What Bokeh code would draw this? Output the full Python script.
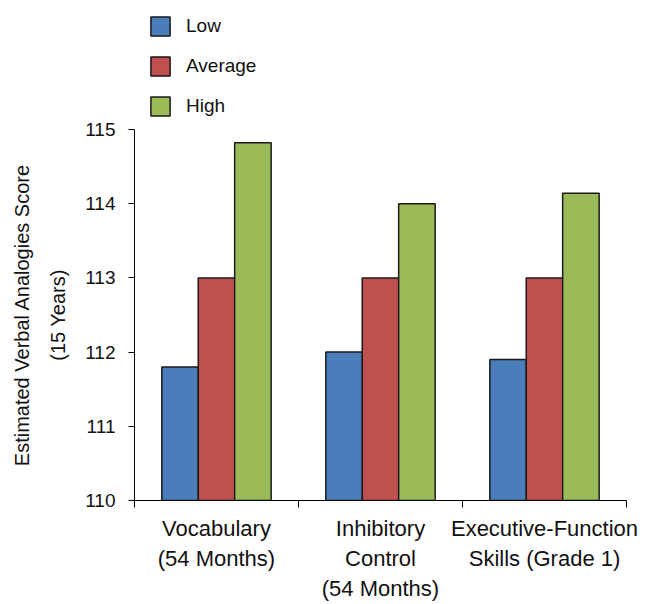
from bokeh.plotting import figure
from bokeh.layouts import column
from bokeh.models import Range1d, FixedTicker, Legend, LegendItem, ColumnDataSource
from bokeh.embed import file_html
from bokeh.resources import INLINE

categories = ["Vocabulary\n(54 Months)", "Inhibitory\nControl\n(54 Months)", "Executive-Function\nSkills (Grade 1)"]
series_names = ["Low", "Average", "High"]
low = [111.8, 112.0, 111.9]
average = [113.0, 113.0, 113.0]
high = [114.82, 114.0, 114.14]
y_ticks = [110, 111, 112, 113, 114, 115]

colors = ["#4a7ebb", "#c0504d", "#9bbb59"]
FONT = "Liberation Sans"
OUTLINE = "#1a1a1a"

# ---- main chart ----
p = figure(frame_width=492, frame_height=371, output_backend="svg", toolbar_location=None,
           x_range=Range1d(0, 3), y_range=Range1d(110, 115),
           min_border_left=134, min_border_top=10, min_border_right=43, min_border_bottom=20)
p.outline_line_color = None
p.grid.visible = False
p.background_fill_color = "white"

centers = [i + 0.5 for i in range(len(categories))]
offsets = [-0.222, 0.0, 0.222]
for vals, off, col in zip([low, average, high], offsets, colors):
    src = ColumnDataSource(dict(x=[c + off for c in centers], top=vals))
    p.vbar(x="x", top="top", bottom=110, width=0.2226, source=src,
           fill_color=col, line_color=OUTLINE, line_width=1.5)

xa = p.xaxis[0]
xa.ticker = FixedTicker(ticks=centers, minor_ticks=[0, 1, 2, 3])
xa.major_label_overrides = {c: lab for c, lab in zip(centers, categories)}
xa.major_tick_line_color = None
xa.minor_tick_out = 7
xa.minor_tick_in = 0
xa.minor_tick_line_color = "black"
xa.axis_line_color = "black"
xa.major_label_standoff = 8
xa.major_label_text_font = FONT
xa.major_label_text_font_size = "22px"
xa.major_label_text_color = "#111111"
xa.major_label_text_line_height = 1.2

ya = p.yaxis[0]
ya.ticker = FixedTicker(ticks=y_ticks, minor_ticks=[])
ya.major_tick_out = 6
ya.major_tick_in = 0
ya.axis_line_color = "black"
ya.major_label_standoff = 13
ya.major_label_text_font = FONT
ya.major_label_text_font_size = "19px"
ya.major_label_text_color = "#111111"
ya.axis_label = "Estimated Verbal Analogies Score\n(15 Years)"
ya.axis_label_text_font = FONT
ya.axis_label_text_font_size = "20px"
ya.axis_label_text_font_style = "normal"
ya.axis_label_text_color = "#111111"
ya.axis_label_text_line_height = 1.65
ya.axis_label_standoff = 13

# ---- legend strip above the chart ----
lf = figure(width=669, height=119, output_backend="svg", toolbar_location=None,
            x_range=Range1d(0, 1), y_range=Range1d(0, 1), min_border=0)
lf.axis.visible = False
lf.grid.visible = False
lf.outline_line_color = None
leg_renderers = []
for col in colors:
    src = ColumnDataSource(dict(x=[float("nan")], top=[float("nan")]))
    r = lf.vbar(x="x", top="top", bottom=0, width=0.1, source=src,
                fill_color=col, line_color=OUTLINE, line_width=1.5)
    leg_renderers.append(r)
legend = Legend(items=[LegendItem(label=n, renderers=[r]) for n, r in zip(series_names, leg_renderers)],
                location=(14, 1), orientation="vertical",
                glyph_width=24, glyph_height=24, label_height=24, spacing=16,
                padding=0, margin=0, label_standoff=14,
                label_text_font=FONT, label_text_font_size="19px", label_text_color="#111111",
                background_fill_alpha=0, border_line_color=None)
lf.add_layout(legend, "center")

layout = column(lf, p, spacing=0)
open("out.html", "w").write(file_html(layout, INLINE))
